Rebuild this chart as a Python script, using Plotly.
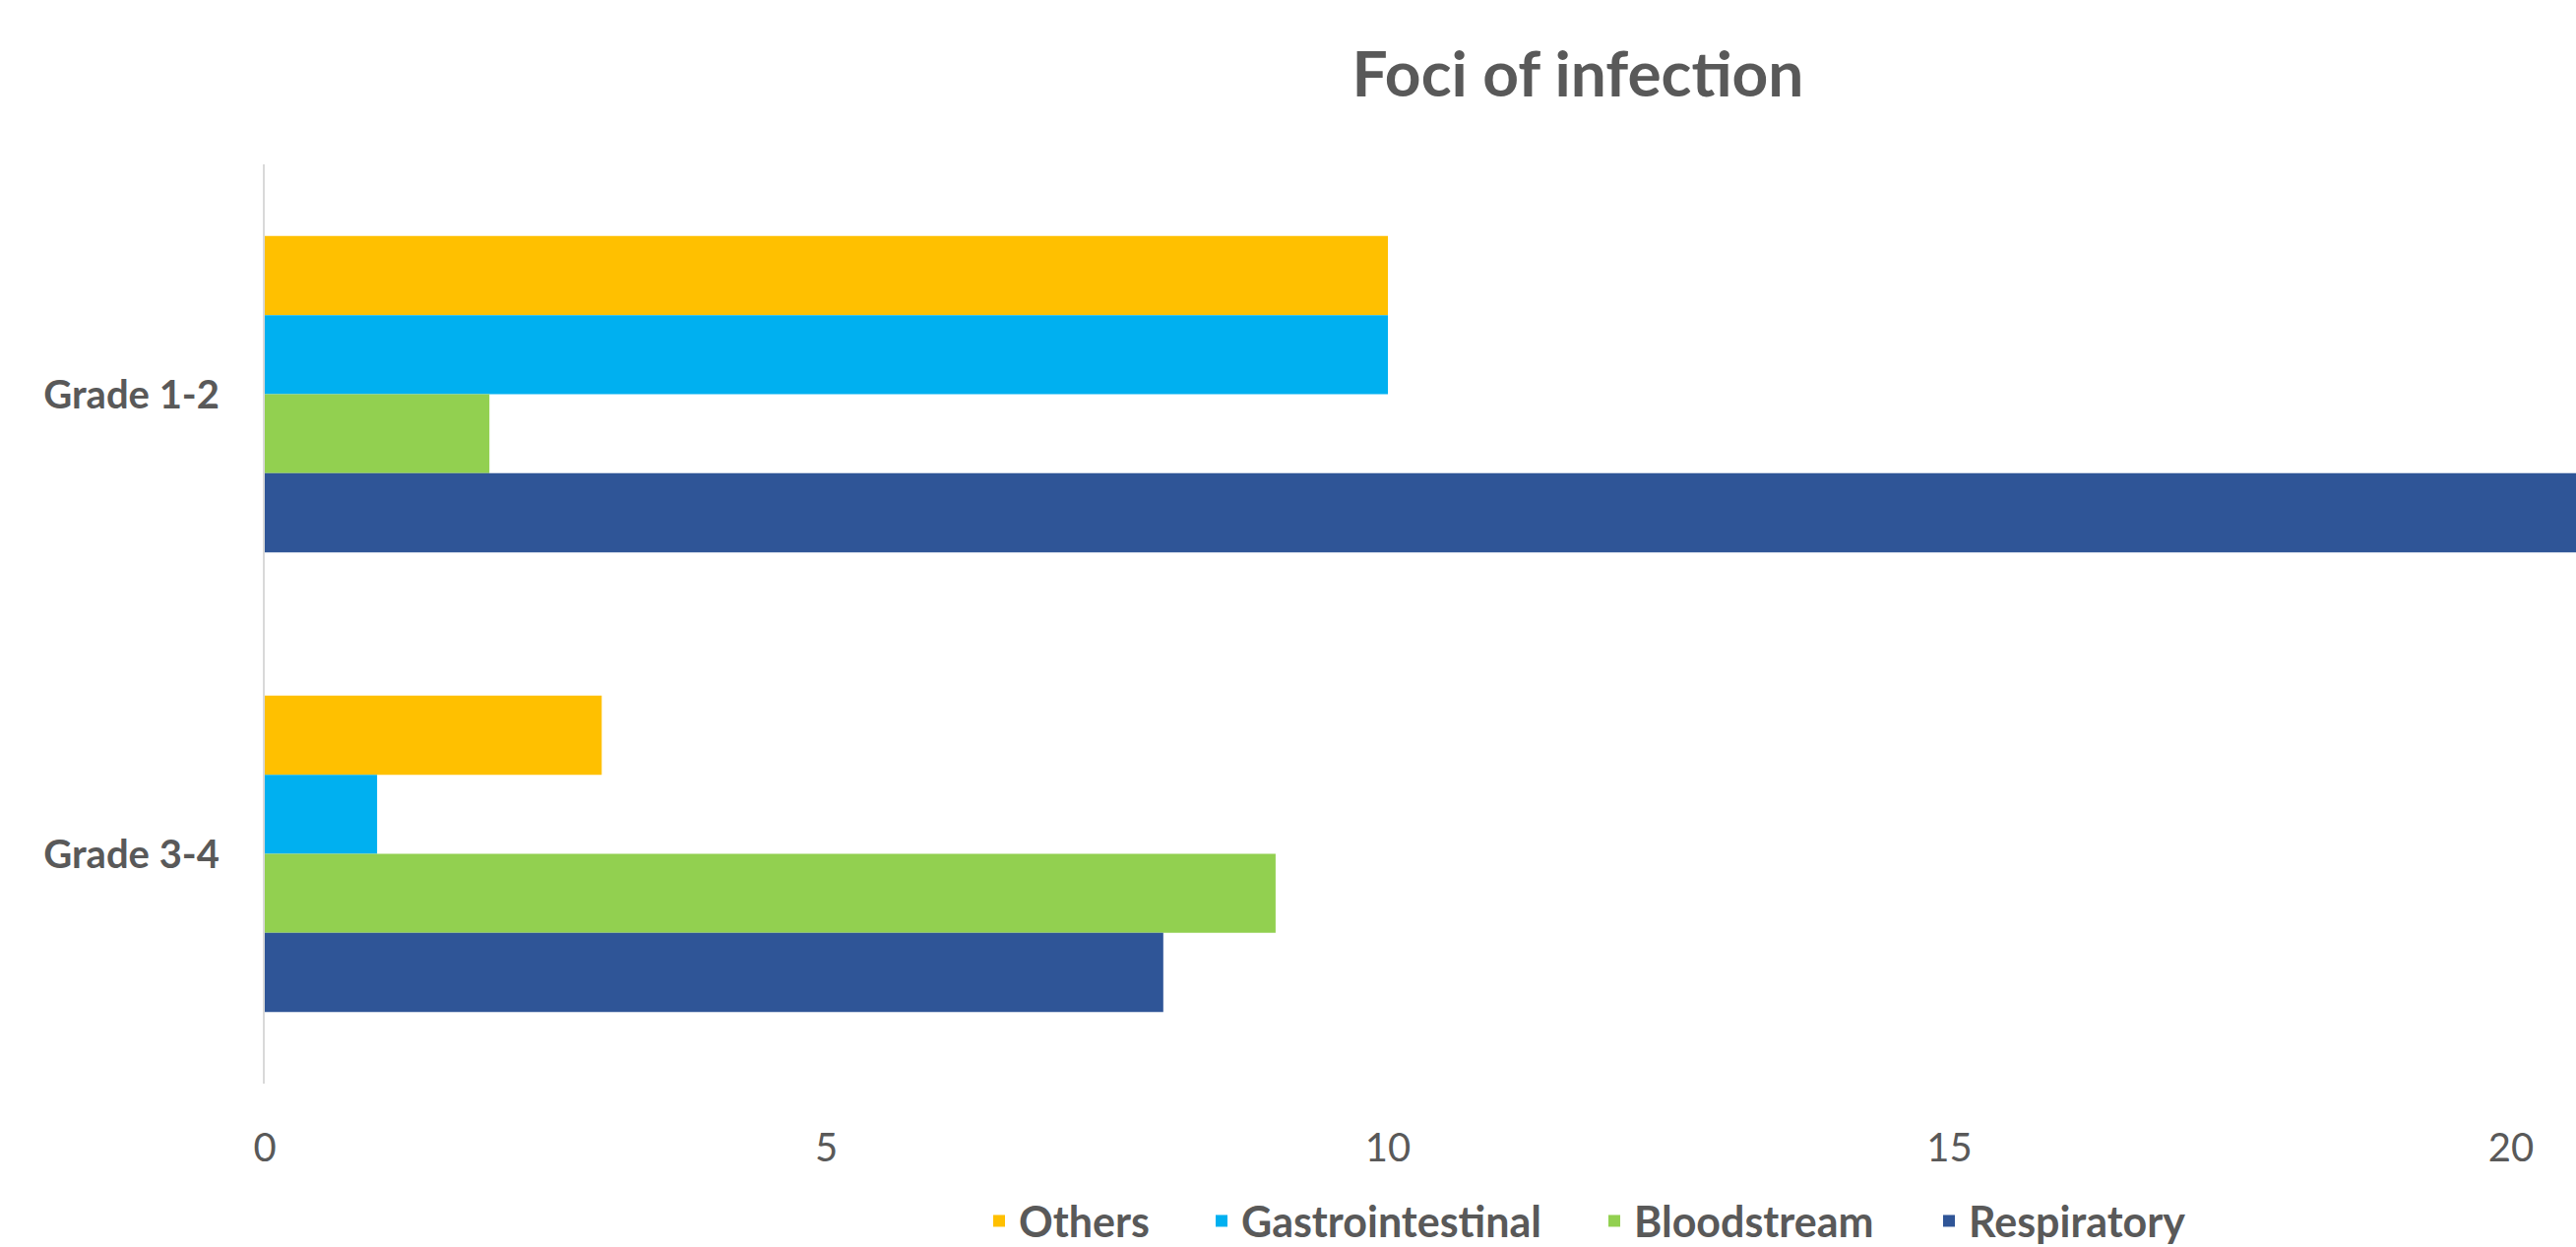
import plotly.graph_objects as go

categories = ["Grade 1-2", "Grade 3-4"]
series_names = ["Others", "Gastrointestinal", "Bloodstream", "Respiratory"]
others = [10, 3]
gastrointestinal = [10, 1]
bloodstream = [2, 9]
respiratory = [21, 8]
colors = ["#FFC000", "#00B0F0", "#92D050", "#2F5597"]
x_ticks = [0, 5, 10, 15, 20]

W, H = 2617, 1267
legend_ids = ["legend", "legend2", "legend3", "legend4"]
legend_x_px = [995, 1221, 1620, 1960]

fig = go.Figure()
for name, vals, col, lid in zip(series_names, [others, gastrointestinal, bloodstream, respiratory],
                                colors, legend_ids):
    fig.add_trace(go.Bar(y=categories, x=vals, name=name, orientation="h", legend=lid,
                         marker=dict(color=col, line=dict(width=0))))

legend_font = dict(family="Lato", size=43, color="#595959", weight="bold")
legends = {}
for lid, xp in zip(legend_ids, legend_x_px):
    legends[lid] = dict(orientation="h", x=xp / W, xref="container", xanchor="left",
                        y=1 - 1206 / H, yref="container", yanchor="top",
                        bgcolor="rgba(0,0,0,0)", font=legend_font)

fig.update_layout(
    width=W, height=H,
    barmode="group", bargap=0.312, bargroupgap=0,
    plot_bgcolor="white", paper_bgcolor="white",
    margin=dict(l=269, r=0, t=167, b=166, autoexpand=False),
    title=dict(text="<b>Foci of infection</b>", x=1603 / W, xref="container", xanchor="center",
               y=1 - 76 / H, yref="container", yanchor="middle",
               font=dict(family="Lato", size=64, color="#595959")),
    xaxis=dict(range=[0, 2348 / 114.1], tickvals=x_ticks, showgrid=False, zeroline=False,
               showline=False, ticks="", ticklabelstandoff=38,
               tickfont=dict(family="Lato", size=40, color="#595959")),
    yaxis=dict(autorange="reversed", showgrid=False, zeroline=False, showline=True,
               linecolor="#D9D9D9", linewidth=2, ticks="", ticklabelstandoff=36,
               tickfont=dict(family="Lato", size=40, color="#595959", weight="bold")),
    showlegend=True,
    **legends,
)
fig.write_html("out.html")
